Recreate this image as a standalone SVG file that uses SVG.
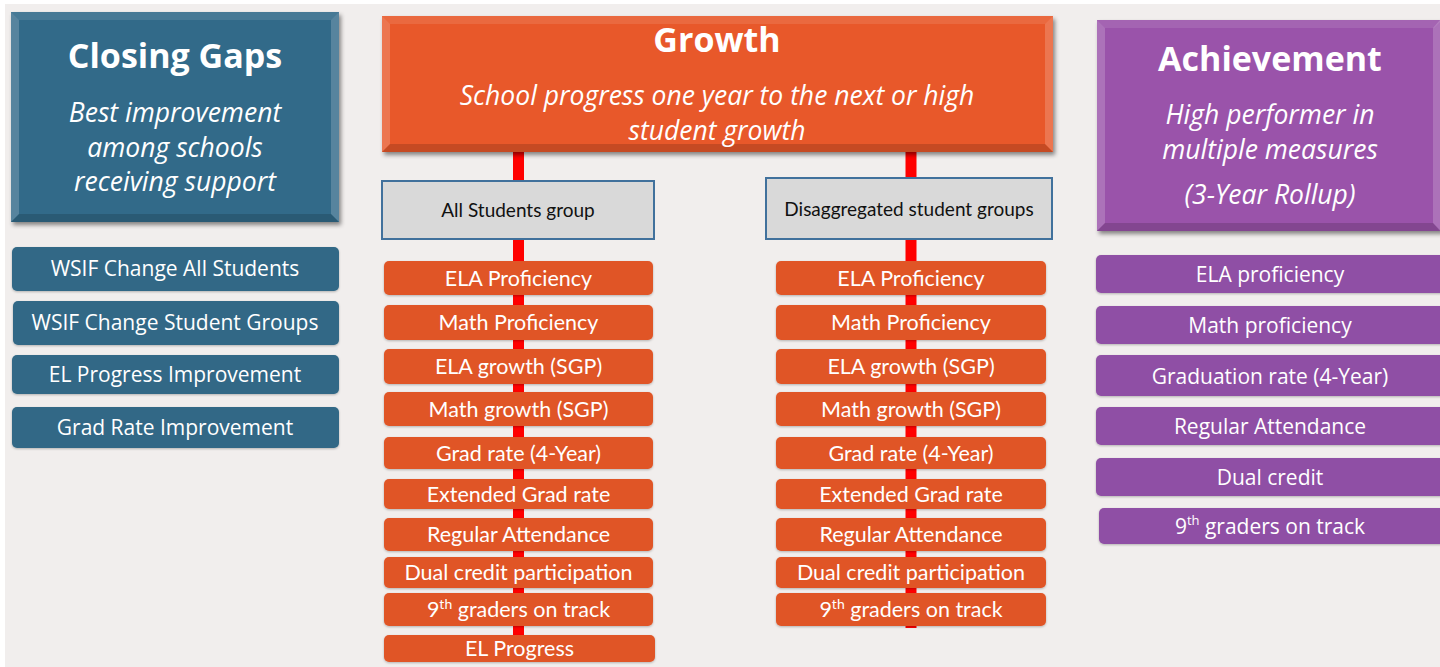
<svg xmlns="http://www.w3.org/2000/svg" width="1440" height="667" viewBox="0 0 1440 667">
<defs>
<filter id="sh" x="-5%" y="-5%" width="115%" height="120%">
<feDropShadow dx="2" dy="3" stdDeviation="2" flood-color="#000" flood-opacity="0.45"/>
</filter>
<filter id="sh2" x="-5%" y="-10%" width="110%" height="130%">
<feDropShadow dx="0" dy="1" stdDeviation="0.8" flood-color="#000" flood-opacity="0.25"/>
</filter>
</defs>
<style>
.hd{font-family:"Open Sans","Noto Sans",sans-serif;font-weight:bold;font-size:34px;fill:#fff;text-anchor:middle}
.sub{font-family:"Open Sans","Noto Sans",sans-serif;font-style:italic;font-size:26.5px;fill:#fff;text-anchor:middle}
.it{font-family:"Open Sans","Noto Sans",sans-serif;font-size:21px;fill:#fff;text-anchor:middle}
.ot{font-family:Lato,"Noto Sans",sans-serif;font-size:21.5px;fill:#fff;text-anchor:middle}
.gt{font-family:Lato,"Noto Sans",sans-serif;font-size:19px;fill:#111;text-anchor:middle}
.blue{fill:#336a89}
.bi{fill:#326886;filter:url(#sh2)}
.org{fill:#e8582a}
.oi{fill:#e05528;filter:url(#sh2)}
.pur{fill:#9a52aa}
.pi{fill:#8f4fa5;filter:url(#sh2)}
.gray{fill:#d9d9d9;stroke:#41719c;stroke-width:2}
.lt{fill:#fff;opacity:0.18}
.lt2{fill:#fff;opacity:0.1}
.dk{fill:#000;opacity:0.15}
.red{stroke:#ff0000;stroke-width:11;fill:none}
</style>
<rect x="0" y="0" width="1440" height="667" fill="#ffffff"/>
<rect x="5" y="4" width="1435" height="663" fill="#f1eeed"/>

<g id="connectors">
<line class="red" x1="518.5" y1="150" x2="518.5" y2="650"/>
<line class="red" x1="911" y1="150" x2="911" y2="628"/>
</g>

<g id="closing-gaps">
<rect class="blue" x="11" y="12" width="328" height="210" filter="url(#sh)"/>
<polygon class="lt2" points="11,12 339,12 331,20 19,20"/>
<polygon class="lt" points="11,12 19,20 19,214 11,222"/>
<polygon class="lt" points="339,12 339,222 331,214 331,20"/>
<polygon class="dk" points="11,222 19,214 331,214 339,222"/>
<text class="hd" x="175" y="68">Closing Gaps</text>
<text class="sub" x="175" y="122">Best improvement</text>
<text class="sub" x="175" y="156.5">among schools</text>
<text class="sub" x="175" y="191">receiving support</text>
</g>

<g id="cg-1"><rect class="bi" x="12" y="247" width="327" height="44" rx="5"/><text class="it" x="175" y="276">WSIF Change All Students</text></g>
<g id="cg-2"><rect class="bi" x="13" y="301" width="326" height="44" rx="5"/><text class="it" x="175" y="330">WSIF Change Student Groups</text></g>
<g id="cg-3"><rect class="bi" x="12" y="355" width="327" height="39" rx="5"/><text class="it" x="175" y="382">EL Progress Improvement</text></g>
<g id="cg-4"><rect class="bi" x="12" y="407" width="327" height="41" rx="5"/><text class="it" x="175" y="435">Grad Rate Improvement</text></g>

<g id="growth">
<rect class="org" x="382" y="16" width="671" height="136" filter="url(#sh)"/>
<polygon class="lt2" points="382,16 1053,16 1045,24 390,24"/>
<polygon class="lt" points="382,16 390,24 390,144 382,152"/>
<polygon class="lt" points="1053,16 1053,152 1045,144 1045,24"/>
<polygon class="dk" points="382,152 390,144 1045,144 1053,152"/>
<text class="hd" x="717" y="52">Growth</text>
<text class="sub" x="717" y="105">School progress one year to the next or high</text>
<text class="sub" x="717" y="139.5">student growth</text>
</g>

<g id="all-students"><rect class="gray" x="382" y="181" width="272" height="58"/><text class="gt" x="518" y="217">All Students group</text></g>
<g id="disaggregated"><rect class="gray" x="766" y="178" width="286" height="61"/><text class="gt" x="909" y="216">Disaggregated student groups</text></g>

<g id="a-1"><rect class="oi" x="384" y="261" width="269" height="34" rx="5"/><text class="ot" x="518.5" y="286">ELA Proficiency</text></g>
<g id="a-2"><rect class="oi" x="384" y="305" width="269" height="35" rx="5"/><text class="ot" x="518.5" y="330">Math Proficiency</text></g>
<g id="a-3"><rect class="oi" x="384" y="349" width="269" height="35" rx="5"/><text class="ot" x="518.5" y="374">ELA growth (SGP)</text></g>
<g id="a-4"><rect class="oi" x="384" y="392" width="269" height="34" rx="5"/><text class="ot" x="518.5" y="417">Math growth (SGP)</text></g>
<g id="a-5"><rect class="oi" x="384" y="437" width="269" height="32" rx="5"/><text class="ot" x="518.5" y="461">Grad rate (4-Year)</text></g>
<g id="a-6"><rect class="oi" x="384" y="479" width="269" height="30" rx="5"/><text class="ot" x="518.5" y="502">Extended Grad rate</text></g>
<g id="a-7"><rect class="oi" x="384" y="518" width="269" height="33" rx="5"/><text class="ot" x="518.5" y="542">Regular Attendance</text></g>
<g id="a-8"><rect class="oi" x="384" y="557" width="269" height="31" rx="5"/><text class="ot" x="518.5" y="580">Dual credit participation</text></g>
<g id="a-9"><rect class="oi" x="384" y="593" width="269" height="33" rx="5"/><text class="ot" x="518.5" y="617">9<tspan font-size="14" baseline-shift="super">th</tspan> graders on track</text></g>
<g id="a-10"><rect class="oi" x="384" y="635" width="271" height="27" rx="5"/><text class="ot" x="519.5" y="656">EL Progress</text></g>

<g id="d-1"><rect class="oi" x="776" y="261" width="270" height="34" rx="5"/><text class="ot" x="911" y="286">ELA Proficiency</text></g>
<g id="d-2"><rect class="oi" x="776" y="305" width="270" height="35" rx="5"/><text class="ot" x="911" y="330">Math Proficiency</text></g>
<g id="d-3"><rect class="oi" x="776" y="349" width="270" height="35" rx="5"/><text class="ot" x="911" y="374">ELA growth (SGP)</text></g>
<g id="d-4"><rect class="oi" x="776" y="392" width="270" height="34" rx="5"/><text class="ot" x="911" y="417">Math growth (SGP)</text></g>
<g id="d-5"><rect class="oi" x="776" y="437" width="270" height="32" rx="5"/><text class="ot" x="911" y="461">Grad rate (4-Year)</text></g>
<g id="d-6"><rect class="oi" x="776" y="479" width="270" height="30" rx="5"/><text class="ot" x="911" y="502">Extended Grad rate</text></g>
<g id="d-7"><rect class="oi" x="776" y="518" width="270" height="33" rx="5"/><text class="ot" x="911" y="542">Regular Attendance</text></g>
<g id="d-8"><rect class="oi" x="776" y="557" width="270" height="31" rx="5"/><text class="ot" x="911" y="580">Dual credit participation</text></g>
<g id="d-9"><rect class="oi" x="776" y="593" width="270" height="33" rx="5"/><text class="ot" x="911" y="617">9<tspan font-size="14" baseline-shift="super">th</tspan> graders on track</text></g>

<g id="achievement">
<rect class="pur" x="1097" y="20" width="345" height="211" filter="url(#sh)"/>
<polygon class="lt2" points="1097,20 1442,20 1434,28 1105,28"/>
<polygon class="lt" points="1097,20 1105,28 1105,223 1097,231"/>
<polygon class="lt" points="1440,20 1440,231 1433,223 1433,28"/>
<polygon class="dk" points="1097,231 1105,223 1433,223 1441,231"/>
<text class="hd" x="1270" y="71">Achievement</text>
<text class="sub" x="1270" y="124">High performer in</text>
<text class="sub" x="1270" y="158.5">multiple measures</text>
<text class="sub" x="1270" y="204">(3-Year Rollup)</text>
</g>

<g id="ach-1"><rect class="pi" x="1096" y="255" width="350" height="38" rx="5"/><text class="it" x="1270" y="282">ELA proficiency</text></g>
<g id="ach-2"><rect class="pi" x="1096" y="306" width="350" height="38" rx="5"/><text class="it" x="1270" y="333">Math proficiency</text></g>
<g id="ach-3"><rect class="pi" x="1096" y="355" width="350" height="41" rx="5"/><text class="it" x="1270" y="384">Graduation rate (4-Year)</text></g>
<g id="ach-4"><rect class="pi" x="1096" y="407" width="350" height="38" rx="5"/><text class="it" x="1270" y="434">Regular Attendance</text></g>
<g id="ach-5"><rect class="pi" x="1096" y="458" width="350" height="38" rx="5"/><text class="it" x="1270" y="485">Dual credit</text></g>
<g id="ach-6"><rect class="pi" x="1099" y="508" width="347" height="36" rx="5"/><text class="it" x="1270" y="534">9<tspan font-size="13" baseline-shift="super">th</tspan> graders on track</text></g>
</svg>
